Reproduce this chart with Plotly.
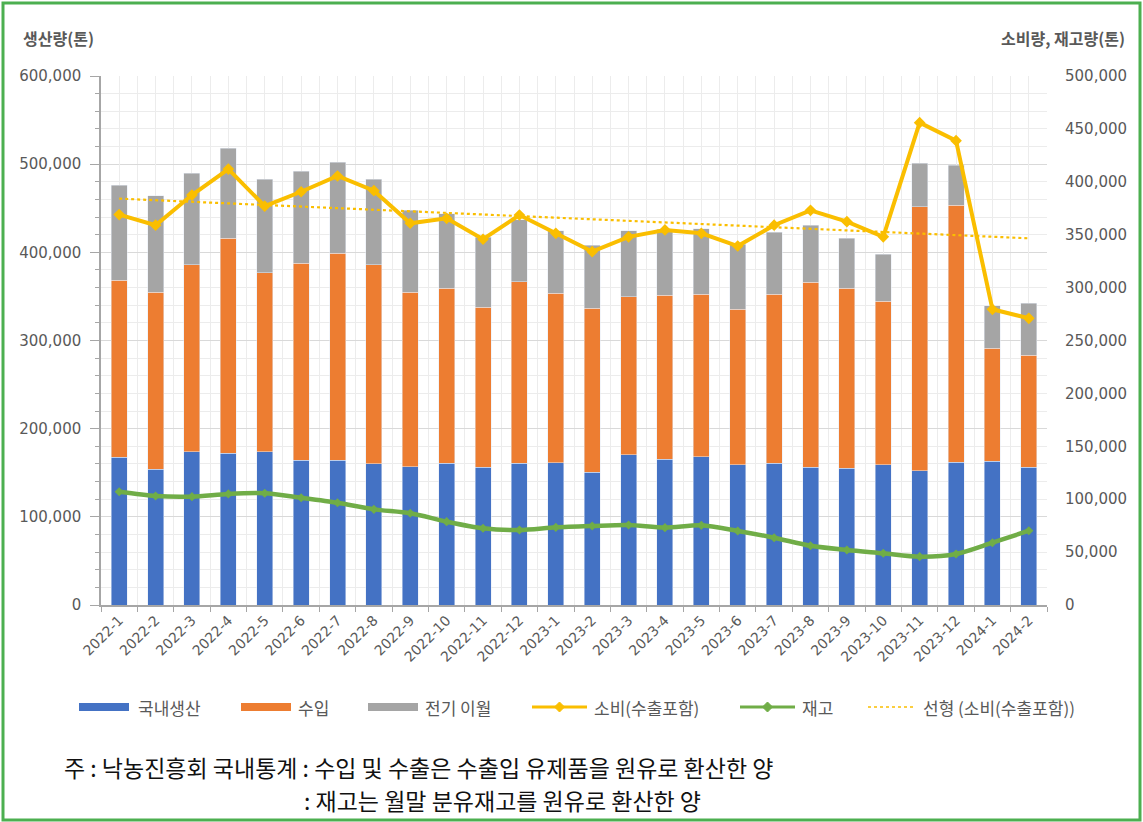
import numpy as np
import plotly.graph_objects as go

# ---------------- data ----------------
months = ["2022-1", "2022-2", "2022-3", "2022-4", "2022-5", "2022-6", "2022-7", "2022-8",
          "2022-9", "2022-10", "2022-11", "2022-12", "2023-1", "2023-2", "2023-3", "2023-4",
          "2023-5", "2023-6", "2023-7", "2023-8", "2023-9", "2023-10", "2023-11", "2023-12",
          "2024-1", "2024-2"]

domestic = [167500, 154000, 174000, 172000, 174000, 164000, 164000, 160000, 157000, 161000,
            156500, 161000, 161500, 150500, 170500, 165600, 168000, 158800, 160700, 156500,
            155000, 158800, 152400, 161800, 163000, 156500]

stack_import_top = [368600, 355000, 386000, 416000, 377000, 387500, 399000, 386000, 355000, 359000,
                    338000, 366700, 353500, 336500, 349700, 351600, 352700, 335700, 352700, 366000,
                    359000, 344800, 451800, 453300, 291000, 283500]

stack_total_top = [476000, 464000, 489600, 518000, 483000, 492000, 502000, 483000, 448000, 444000,
                   417000, 436700, 424500, 408000, 424500, 426000, 427000, 409000, 422600, 430600,
                   416000, 398000, 501000, 499000, 339500, 342000]

imports = [t - d for t, d in zip(stack_import_top, domestic)]
carryover = [t - i for t, i in zip(stack_total_top, stack_import_top)]

consumption = [369000, 359000, 387500, 412000, 377000, 390600, 405500, 391600, 360800, 365500,
               345700, 368600, 351300, 334000, 348000, 354500, 351300, 339300, 359000, 373000,
               362300, 348000, 455900, 438900, 279500, 271000]

stock = [107000, 103000, 102400, 105000, 105600, 101400, 96700, 90400, 86700, 78800,
         72500, 70900, 73400, 74700, 75600, 73100, 75300, 70000, 63600, 56000,
         52000, 48900, 45700, 48200, 58900, 70200]

# linear trend of consumption (Excel-style linear trendline)
idx = np.arange(len(consumption))
slope, intercept = np.polyfit(idx, consumption, 1)
trend = list(slope * idx + intercept)

left_ticks = [0, 100000, 200000, 300000, 400000, 500000, 600000]
right_ticks = [0, 50000, 100000, 150000, 200000, 250000, 300000, 350000, 400000, 450000, 500000]

# ---------------- style ----------------
W, H = 1143, 822
L, R, T, B = 101, 96, 76, 217
PW, PH = W - L - R, H - T - B

def px(x):
    return (x - L) / PW

def py(y):
    return (H - B - y) / PH

BLUE = "#4472C4"
ORANGE = "#ED7D31"
GRAY = "#A5A5A5"
YELLOW = "#FABE00"
GREEN = "#70AD47"
TXT = "#595959"
KFONT = "Noto Sans CJK KR"
NFONT = "DejaVu Sans"

fig = go.Figure()

fig.add_trace(go.Bar(x=months, y=domestic, name="국내생산", marker_color=BLUE, yaxis="y"))
fig.add_trace(go.Bar(x=months, y=imports, name="수입", marker_color=ORANGE, yaxis="y"))
fig.add_trace(go.Bar(x=months, y=carryover, name="전기 이월", marker_color=GRAY, yaxis="y"))

fig.add_trace(go.Scatter(x=months, y=stock, name="재고", mode="lines+markers",
                         line=dict(color=GREEN, width=4.5, shape="spline", smoothing=0.8),
                         marker=dict(symbol="diamond", size=7, color=GREEN),
                         yaxis="y2"))
fig.add_trace(go.Scatter(x=months, y=trend, name="선형 (소비(수출포함))", mode="lines",
                         line=dict(color=YELLOW, width=2.2, dash="dot"),
                         xaxis="x2", yaxis="y2"))
fig.add_trace(go.Scatter(x=months, y=consumption, name="소비(수출포함)", mode="lines+markers",
                         line=dict(color=YELLOW, width=4),
                         marker=dict(symbol="diamond", size=9, color=YELLOW),
                         yaxis="y2"))

fig.update_layout(
    width=W, height=H,
    margin=dict(l=L, r=R, t=T, b=B, pad=0),
    paper_bgcolor="white", plot_bgcolor="white",
    font=dict(family=KFONT, color=TXT, size=15),
    barmode="stack", bargap=0.56,
    showlegend=False,
    xaxis=dict(
        type="category", categoryorder="array", categoryarray=months,
        range=[-0.5, len(months) - 0.5],
        tickson="boundaries", ticks="outside", ticklen=5, tickcolor="#a6a6a6",
        showline=True, linecolor="#a6a6a6", linewidth=1.5,
        showgrid=True, gridcolor="#ececec", gridwidth=1,
        tickangle=-45, tickfont=dict(family=NFONT, size=14, color=TXT),
    ),
    xaxis2=dict(
        type="category", categoryorder="array", categoryarray=months,
        range=[-0.5, len(months) - 0.5], overlaying="x",
        showgrid=True, gridcolor="#ececec", gridwidth=1,
        showticklabels=False, ticks="", showline=False,
    ),
    yaxis=dict(
        range=[0, 600000], tickvals=left_ticks,
        ticktext=[f"{v:,}" for v in left_ticks],
        ticks="outside", ticklen=9, tickcolor="#a6a6a6",
        showline=True, linecolor="#a6a6a6", linewidth=1.5,
        showgrid=True, gridcolor="#d9d9d9", gridwidth=1.2,
        minor=dict(dtick=20000, tick0=0, ticks="outside", ticklen=4, tickcolor="#a6a6a6",
                   showgrid=True, gridcolor="#ececec", gridwidth=1),
        zeroline=False, ticklabelstandoff=6,
        tickfont=dict(family=NFONT, size=15, color=TXT),
    ),
    yaxis2=dict(
        range=[0, 500000], tickvals=right_ticks,
        ticktext=[f"{v:,}" for v in right_ticks],
        overlaying="y", side="right", showgrid=False, zeroline=False,
        showline=False, ticks="", ticklabelstandoff=17,
        tickfont=dict(family=NFONT, size=15, color=TXT),
    ),
)

annotations = [
    dict(text="<b>생산량(톤)</b>", x=px(21), y=py(38), xanchor="left", yanchor="middle",
         font=dict(family=KFONT, size=16, color=TXT)),
    dict(text="<b>소비량, 재고량(톤)</b>", x=px(1127), y=py(38), xanchor="right", yanchor="middle",
         font=dict(family=KFONT, size=16, color=TXT)),
    dict(text="주 : 낙농진흥회 국내통계 : 수입 및 수출은 수출입 유제품을 원유로 환산한 양",
         x=px(62), y=py(767), xanchor="left", yanchor="middle",
         font=dict(family=KFONT, size=23, color="#111111")),
    dict(text=": 재고는 월말 분유재고를 원유로 환산한 양",
         x=px(302), y=py(800), xanchor="left", yanchor="middle",
         font=dict(family=KFONT, size=23, color="#111111")),
]

# ---- manual legend (wide swatches like the original) ----
LEG_Y = 707
shapes = []
bar_items = [("국내생산", BLUE, 79, 129, 136), ("수입", ORANGE, 241, 291, 296),
             ("전기 이월", GRAY, 368, 418, 423)]
for name, col, x0, x1, tx in bar_items:
    shapes.append(dict(type="rect", xref="paper", yref="paper", x0=px(x0), x1=px(x1),
                       y0=py(LEG_Y + 4), y1=py(LEG_Y - 4), line=dict(width=0), fillcolor=col))
    annotations.append(dict(text=name, x=px(tx), y=py(LEG_Y), xanchor="left", yanchor="middle",
                            font=dict(family=KFONT, size=17, color=TXT)))

line_items = [("소비(수출포함)", YELLOW, 532, 587, 592, True, "solid", 3),
              ("재고", GREEN, 740, 795, 800, True, "solid", 3),
              ("선형 (소비(수출포함))", YELLOW, 868, 913, 921, False, "dot", 1.5)]
for name, col, x0, x1, tx, mk, dash, w in line_items:
    shapes.append(dict(type="line", xref="paper", yref="paper", x0=px(x0), x1=px(x1),
                       y0=py(LEG_Y), y1=py(LEG_Y), line=dict(color=col, width=w, dash=dash)))
    if mk:
        cx = (x0 + x1) / 2
        d = 5
        path = (f"M{px(cx - d)},{py(LEG_Y)} L{px(cx)},{py(LEG_Y + d)} "
                f"L{px(cx + d)},{py(LEG_Y)} L{px(cx)},{py(LEG_Y - d)} Z")
        shapes.append(dict(type="path", xref="paper", yref="paper", path=path,
                           fillcolor=col, line=dict(color=col, width=1)))
    annotations.append(dict(text=name, x=px(tx), y=py(LEG_Y), xanchor="left", yanchor="middle",
                            font=dict(family=KFONT, size=17, color=TXT)))

# outer green frame
shapes.append(dict(type="rect", xref="paper", yref="paper",
                   x0=px(3), x1=px(1140), y0=py(820), y1=py(3),
                   line=dict(color="#4CAF50", width=3), fillcolor="rgba(0,0,0,0)", layer="above"))

for a in annotations:
    a.update(xref="paper", yref="paper", showarrow=False)
fig.update_layout(annotations=annotations, shapes=shapes)

fig.write_html("out.html", config={"displayModeBar": False},
               post_script="document.body.style.margin='0';document.body.style.overflow='hidden';")
